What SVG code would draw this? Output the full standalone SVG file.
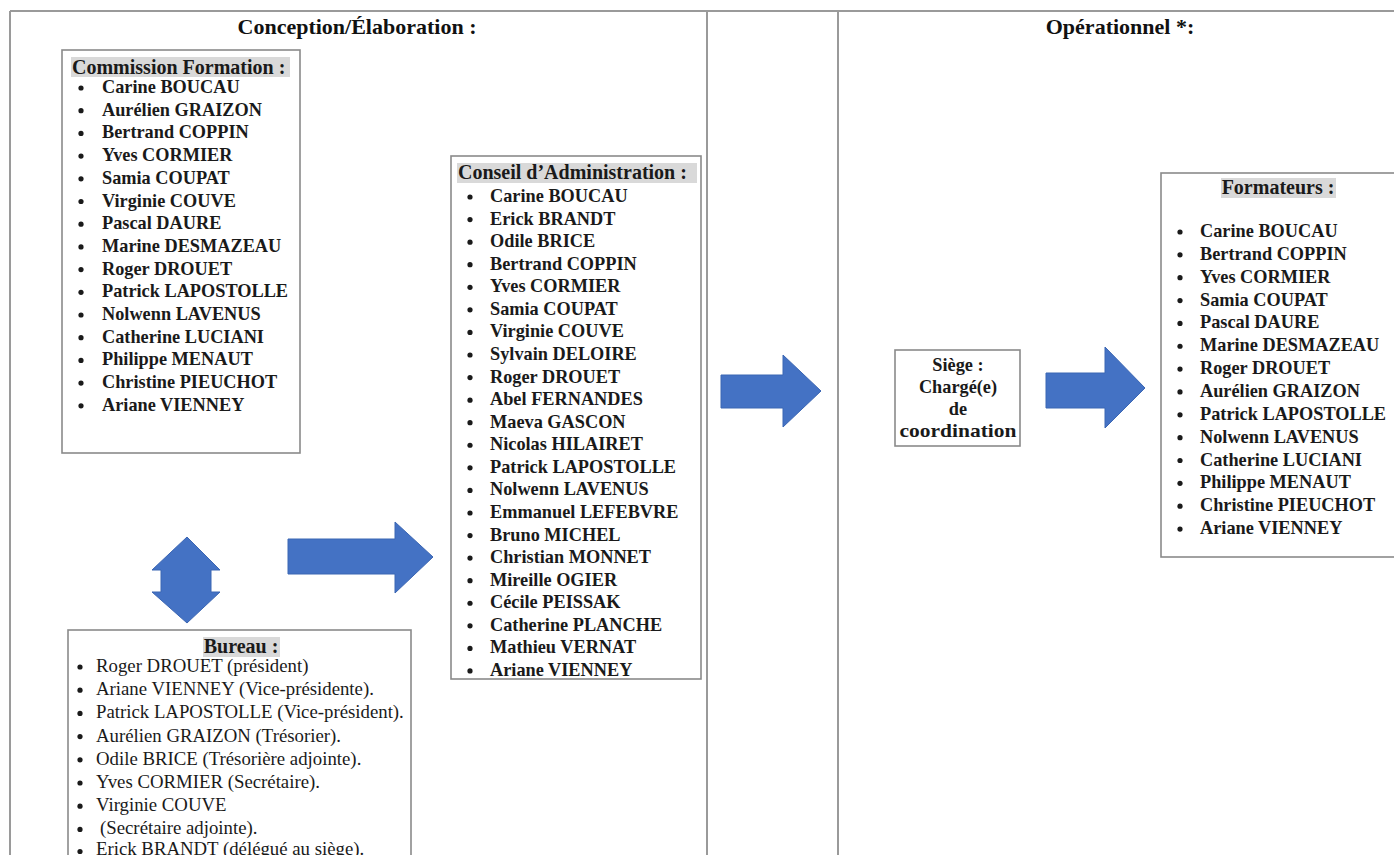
<svg xmlns="http://www.w3.org/2000/svg" width="1394" height="855" viewBox="0 0 1394 855">
<style>
.grid{stroke:#9a9a9a;stroke-width:2;fill:none}
.box{fill:#fff;stroke:#8a8a8a;stroke-width:1.6}
.hl{fill:#d9d9d9}
.title{font-family:"Liberation Serif",serif;font-weight:bold;font-size:22px;fill:#111}
.h{font-family:"Liberation Serif",serif;font-weight:bold;font-size:20px;fill:#1a1a1a}
.b{font-family:"Liberation Serif",serif;font-weight:bold;font-size:18.3px;fill:#1a1a1a}
.r{font-family:"Liberation Serif",serif;font-size:18.8px;fill:#1a1a1a}
.c{text-anchor:middle}
.dot{fill:#1a1a1a}
.arrow{fill:#4472C4;stroke:#3b66b3;stroke-width:1}
</style>
<rect width="1394" height="855" fill="#fff"/>
<g id="table">
<line class="grid" x1="10" y1="11" x2="1394" y2="11"/>
<line class="grid" x1="10" y1="11" x2="10" y2="855"/>
<line class="grid" x1="707" y1="11" x2="707" y2="855"/>
<line class="grid" x1="838" y1="11" x2="838" y2="855"/>
<text class="title c" x="357" y="34">Conception/Élaboration :</text>
<text class="title c" x="1120" y="34">Opérationnel *:</text>
</g>
<g id="commission">
<rect class="box" x="62" y="50" width="238" height="403"/>
<rect class="hl" x="71" y="57" width="219" height="20"/>
<text class="h" x="72" y="73.5">Commission Formation :</text>
<g class="dot">
<circle cx="81" cy="88" r="2.6"/><circle cx="81" cy="110.7" r="2.6"/><circle cx="81" cy="133.4" r="2.6"/><circle cx="81" cy="156.1" r="2.6"/><circle cx="81" cy="178.8" r="2.6"/><circle cx="81" cy="201.5" r="2.6"/><circle cx="81" cy="224.2" r="2.6"/><circle cx="81" cy="246.9" r="2.6"/><circle cx="81" cy="269.6" r="2.6"/><circle cx="81" cy="292.3" r="2.6"/><circle cx="81" cy="315" r="2.6"/><circle cx="81" cy="337.7" r="2.6"/><circle cx="81" cy="360.4" r="2.6"/><circle cx="81" cy="383.1" r="2.6"/><circle cx="81" cy="405.8" r="2.6"/>
</g>
<text class="b" x="102" y="93">Carine BOUCAU</text>
<text class="b" x="102" y="115.7">Aurélien GRAIZON</text>
<text class="b" x="102" y="138.4">Bertrand COPPIN</text>
<text class="b" x="102" y="161.1">Yves CORMIER</text>
<text class="b" x="102" y="183.8">Samia COUPAT</text>
<text class="b" x="102" y="206.5">Virginie COUVE</text>
<text class="b" x="102" y="229.2">Pascal DAURE</text>
<text class="b" x="102" y="251.9">Marine DESMAZEAU</text>
<text class="b" x="102" y="274.6">Roger DROUET</text>
<text class="b" x="102" y="297.3">Patrick LAPOSTOLLE</text>
<text class="b" x="102" y="320">Nolwenn LAVENUS</text>
<text class="b" x="102" y="342.7">Catherine LUCIANI</text>
<text class="b" x="102" y="365.4">Philippe MENAUT</text>
<text class="b" x="102" y="388.1">Christine PIEUCHOT</text>
<text class="b" x="102" y="410.8">Ariane VIENNEY</text>
</g>
<g id="conseil">
<rect class="box" x="451" y="156" width="250" height="523"/>
<rect class="hl" x="457" y="163" width="240" height="20"/>
<text class="h" x="458" y="179">Conseil d’Administration :</text>
<g class="dot">
<circle cx="470" cy="197" r="2.6"/><circle cx="470" cy="219.57" r="2.6"/><circle cx="470" cy="242.14" r="2.6"/><circle cx="470" cy="264.71" r="2.6"/><circle cx="470" cy="287.28" r="2.6"/><circle cx="470" cy="309.85" r="2.6"/><circle cx="470" cy="332.42" r="2.6"/><circle cx="470" cy="354.99" r="2.6"/><circle cx="470" cy="377.56" r="2.6"/><circle cx="470" cy="400.13" r="2.6"/><circle cx="470" cy="422.7" r="2.6"/><circle cx="470" cy="445.27" r="2.6"/><circle cx="470" cy="467.84" r="2.6"/><circle cx="470" cy="490.41" r="2.6"/><circle cx="470" cy="512.98" r="2.6"/><circle cx="470" cy="535.55" r="2.6"/><circle cx="470" cy="558.12" r="2.6"/><circle cx="470" cy="580.69" r="2.6"/><circle cx="470" cy="603.26" r="2.6"/><circle cx="470" cy="625.83" r="2.6"/><circle cx="470" cy="648.4" r="2.6"/><circle cx="470" cy="670.97" r="2.6"/>
</g>
<text class="b" x="490" y="202">Carine BOUCAU</text>
<text class="b" x="490" y="224.57">Erick BRANDT</text>
<text class="b" x="490" y="247.14">Odile BRICE</text>
<text class="b" x="490" y="269.71">Bertrand COPPIN</text>
<text class="b" x="490" y="292.28">Yves CORMIER</text>
<text class="b" x="490" y="314.85">Samia COUPAT</text>
<text class="b" x="490" y="337.42">Virginie COUVE</text>
<text class="b" x="490" y="359.99">Sylvain DELOIRE</text>
<text class="b" x="490" y="382.56">Roger DROUET</text>
<text class="b" x="490" y="405.13">Abel FERNANDES</text>
<text class="b" x="490" y="427.7">Maeva GASCON</text>
<text class="b" x="490" y="450.27">Nicolas HILAIRET</text>
<text class="b" x="490" y="472.84">Patrick LAPOSTOLLE</text>
<text class="b" x="490" y="495.41">Nolwenn LAVENUS</text>
<text class="b" x="490" y="517.98">Emmanuel LEFEBVRE</text>
<text class="b" x="490" y="540.55">Bruno MICHEL</text>
<text class="b" x="490" y="563.12">Christian MONNET</text>
<text class="b" x="490" y="585.69">Mireille OGIER</text>
<text class="b" x="490" y="608.26">Cécile PEISSAK</text>
<text class="b" x="490" y="630.83">Catherine PLANCHE</text>
<text class="b" x="490" y="653.4">Mathieu VERNAT</text>
<text class="b" x="490" y="675.97">Ariane VIENNEY</text>
</g>
<g id="bureau">
<rect class="box" x="68" y="630" width="343" height="240"/>
<rect class="hl" x="203" y="637" width="77" height="20"/>
<text class="h c" x="241" y="652.5">Bureau :</text>
<g class="dot">
<circle cx="80" cy="667" r="2.6"/><circle cx="80" cy="690.2" r="2.6"/><circle cx="80" cy="713.4" r="2.6"/><circle cx="80" cy="736.6" r="2.6"/><circle cx="80" cy="759.8" r="2.6"/><circle cx="80" cy="783" r="2.6"/><circle cx="80" cy="806.2" r="2.6"/><circle cx="80" cy="829.4" r="2.6"/><circle cx="80" cy="851.5" r="2.6"/>
</g>
<text class="r" x="96" y="672">Roger DROUET (président)</text>
<text class="r" x="96" y="695.2">Ariane VIENNEY (Vice-présidente).</text>
<text class="r" x="96" y="718.4">Patrick LAPOSTOLLE (Vice-président).</text>
<text class="r" x="96" y="741.6">Aurélien GRAIZON (Trésorier).</text>
<text class="r" x="96" y="764.8">Odile BRICE (Trésorière adjointe).</text>
<text class="r" x="96" y="788">Yves CORMIER (Secrétaire).</text>
<text class="r" x="96" y="811.2">Virginie COUVE</text>
<text class="r" x="100" y="834.4">(Secrétaire adjointe).</text>
<text class="r" x="96" y="855">Erick BRANDT (délégué au siège).</text>
</g>
<g id="siege">
<rect class="box" x="895" y="350" width="125" height="96"/>
<text class="b c" x="958" y="371">Siège :</text>
<text class="b c" x="958" y="393">Chargé(e)</text>
<text class="b c" x="958" y="415">de</text>
<text class="b c" x="958" y="437" textLength="117" lengthAdjust="spacingAndGlyphs">coordination</text>
</g>
<g id="formateurs">
<rect class="box" x="1161" y="173" width="245" height="384"/>
<rect class="hl" x="1221" y="178" width="115" height="20"/>
<text class="h c" x="1278" y="194">Formateurs :</text>
<g class="dot">
<circle cx="1180" cy="232" r="2.6"/><circle cx="1180" cy="254.85" r="2.6"/><circle cx="1180" cy="277.7" r="2.6"/><circle cx="1180" cy="300.55" r="2.6"/><circle cx="1180" cy="323.4" r="2.6"/><circle cx="1180" cy="346.25" r="2.6"/><circle cx="1180" cy="369.1" r="2.6"/><circle cx="1180" cy="391.95" r="2.6"/><circle cx="1180" cy="414.8" r="2.6"/><circle cx="1180" cy="437.65" r="2.6"/><circle cx="1180" cy="460.5" r="2.6"/><circle cx="1180" cy="483.35" r="2.6"/><circle cx="1180" cy="506.2" r="2.6"/><circle cx="1180" cy="529.05" r="2.6"/>
</g>
<text class="b" x="1200" y="237">Carine BOUCAU</text>
<text class="b" x="1200" y="259.85">Bertrand COPPIN</text>
<text class="b" x="1200" y="282.7">Yves CORMIER</text>
<text class="b" x="1200" y="305.55">Samia COUPAT</text>
<text class="b" x="1200" y="328.4">Pascal DAURE</text>
<text class="b" x="1200" y="351.25">Marine DESMAZEAU</text>
<text class="b" x="1200" y="374.1">Roger DROUET</text>
<text class="b" x="1200" y="396.95">Aurélien GRAIZON</text>
<text class="b" x="1200" y="419.8">Patrick LAPOSTOLLE</text>
<text class="b" x="1200" y="442.65">Nolwenn LAVENUS</text>
<text class="b" x="1200" y="465.5">Catherine LUCIANI</text>
<text class="b" x="1200" y="488.35">Philippe MENAUT</text>
<text class="b" x="1200" y="511.2">Christine PIEUCHOT</text>
<text class="b" x="1200" y="534.05">Ariane VIENNEY</text>
</g>
<g id="connectors">
<polygon class="arrow" points="187,537 220,570 211,570 211,592 220,592 187,623 152,592 161,592 161,570 152,570"/>
<polygon class="arrow" points="288,539 395,539 395,522 433,557 395,593 395,574 288,574"/>
<polygon class="arrow" points="721,375 783,375 783,355 821,391 783,427 783,408 721,408"/>
<polygon class="arrow" points="1046,373 1105,373 1105,347 1145,388 1105,428 1105,408 1046,408"/>
</g>
</svg>
